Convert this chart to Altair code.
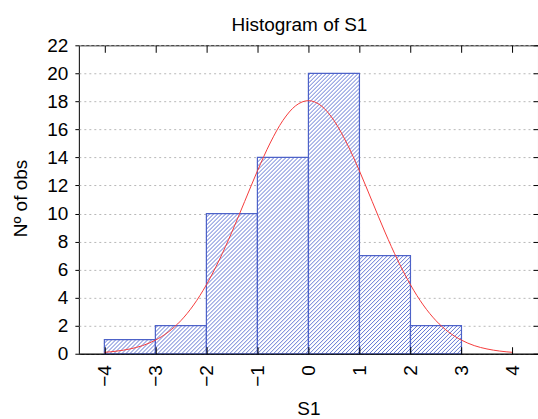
import altair as alt
import numpy as np
import pandas as pd

# ---- data ----
bin_starts = [-4, -3, -2, -1, 0, 1, 2]
bin_ends = [-3, -2, -1, 0, 1, 2, 3]
counts = [1, 2, 10, 14, 20, 7, 2]

curve_x = [-4.0, -3.75, -3.5, -3.25, -3.0, -2.75, -2.5, -2.25, -2.0, -1.75, -1.5, -1.25,
           -1.0, -0.75, -0.5, -0.25, 0.0, 0.25, 0.5, 0.75, 1.0, 1.25, 1.5, 1.75,
           2.0, 2.25, 2.5, 2.75, 3.0, 3.25, 3.5, 3.75, 4.0]
curve_y = [0.10, 0.19, 0.34, 0.58, 0.97, 1.54, 2.36, 3.48, 4.92, 6.67, 8.68, 10.86,
           13.04, 15.03, 16.64, 17.69, 18.05, 17.69, 16.64, 15.03, 13.04, 10.86, 8.68, 6.67,
           4.92, 3.48, 2.36, 1.54, 0.97, 0.58, 0.34, 0.19, 0.10]

x_ticks = [-4, -3, -2, -1, 0, 1, 2, 3, 4]
y_ticks = [0, 2, 4, 6, 8, 10, 12, 14, 16, 18, 20, 22]

# ---- layout / style ----
W, H = 460, 309
PAD_L, PAD_T = 79, 45
XMIN, XMAX = -4.5, 4.5
YMAX = 22
FONT = "Liberation Sans"
BLUE = "#4d62c8"
HATCH = "#5268cf"
RED = "#f53c3c"

bars_df = pd.DataFrame({"start": bin_starts, "end": bin_ends, "count": counts})
curve_df = pd.DataFrame({"x": curve_x, "y": curve_y})

# hatch segments ("/" at 45 degrees in screen space) derived from the bars,
# all sharing one screen-space grid so every bar gets the same tone
px_x = W / (XMAX - XMIN)
px_y = H / YMAX
step = 4.0
bottom_s = PAD_T + H
segs = []
for s, e, c in zip(bin_starts, bin_ends, counts):
    w = (e - s) * px_x
    h = c * px_y
    x0s = PAD_L + (s - XMIN) * px_x
    phase = (x0s + bottom_s) % step
    k0 = np.ceil((w + phase) / step)
    for cc in phase - step * k0 + step * np.arange(0, int((w + h) / step) + 3):
        if cc >= h:
            break
        xa = max(0.0, -cc)
        xb = min(w, h - cc)
        if xb - xa < 0.3:
            continue
        segs.append({"x": s + xa / px_x, "y": (xa + cc) / px_y,
                     "x2": s + xb / px_x, "y2": (xb + cc) / px_y})
hatch_df = pd.DataFrame(segs)

xscale = alt.Scale(domain=[XMIN, XMAX], nice=False, zero=False)
yscale = alt.Scale(domain=[0, YMAX], nice=False, zero=False)

# main axes
ax_x_main = alt.Axis(orient="bottom", values=x_ticks, labelAngle=-90, ticks=False, tickSize=0,
                     labelPadding=11, domain=True, domainColor="black", grid=False,
                     title="S1", titleX=W / 2, titleY=55, titleAlign="center",
                     titleBaseline="middle", zindex=1)
ax_y_main = alt.Axis(orient="left", values=y_ticks, tickSize=4, labelPadding=7, domain=False,
                     grid=True, gridDash=[2, 3], gridColor="#b8b8b8", gridWidth=1,
                     title="Nº of obs", titleAngle=270, titleX=-58, titleY=153,
                     titleAlign="center", titleBaseline="middle", zindex=0)

# inward tick axes
ax_x_bottom_in = alt.Axis(orient="top", offset=-H, values=x_ticks, labels=False, tickSize=7,
                          domain=False, grid=False, title=None, zindex=1)
ax_x_top_in = alt.Axis(orient="bottom", offset=-H, values=x_ticks, labels=False, tickSize=7,
                       domain=False, grid=False, title=None, zindex=1)
ax_y_right_in = alt.Axis(orient="left", offset=-W, values=y_ticks, labels=False, tickSize=5,
                         domain=False, grid=False, title=None, zindex=1)

fill_layer = alt.Chart(bars_df).mark_rect(fill="white", stroke=None).encode(
    x=alt.X("start:Q", scale=xscale, axis=ax_x_main),
    x2="end:Q",
    y=alt.Y("count:Q", scale=yscale, axis=ax_y_main),
    y2=alt.datum(0),
)

hatch_layer = alt.Chart(hatch_df).mark_rule(color=HATCH, strokeWidth=0.9).encode(
    x=alt.X("x:Q", scale=xscale, axis=ax_x_bottom_in),
    x2="x2:Q",
    y=alt.Y("y:Q", scale=yscale, axis=ax_y_right_in),
    y2="y2:Q",
)

outline_layer = alt.Chart(bars_df).mark_rect(fillOpacity=0, stroke=BLUE, strokeWidth=1.2).encode(
    x=alt.X("start:Q", scale=xscale, axis=ax_x_top_in),
    x2="end:Q",
    y=alt.Y("count:Q", scale=yscale, axis=None),
    y2=alt.datum(0),
)

curve_layer = alt.Chart(curve_df).mark_line(color=RED, strokeWidth=1, interpolate="monotone").encode(
    x=alt.X("x:Q", scale=xscale, axis=None),
    y=alt.Y("y:Q", scale=yscale, axis=None),
)

chart = (
    alt.layer(fill_layer, hatch_layer, outline_layer, curve_layer)
    .resolve_scale(x="independent", y="independent")
    .resolve_axis(x="independent", y="independent")
    .properties(
        width=W,
        height=H,
        title=alt.TitleParams("Histogram of S1", fontSize=19, font=FONT, fontWeight="normal",
                              anchor="middle", frame="group", dx=-9, offset=1, color="black"),
        autosize=alt.AutoSizeParams(type="none"),
        padding={"left": PAD_L, "top": PAD_T, "right": 0, "bottom": 65},
    )
    .configure_view(stroke="black", strokeWidth=1)
    .configure_axis(labelFont=FONT, titleFont=FONT, labelFontSize=19, titleFontSize=19,
                    titleFontWeight="normal", labelColor="black", titleColor="black",
                    tickColor="black", tickWidth=1)
)

chart.save("out.html", embed_options={"renderer": "svg", "actions": False})
